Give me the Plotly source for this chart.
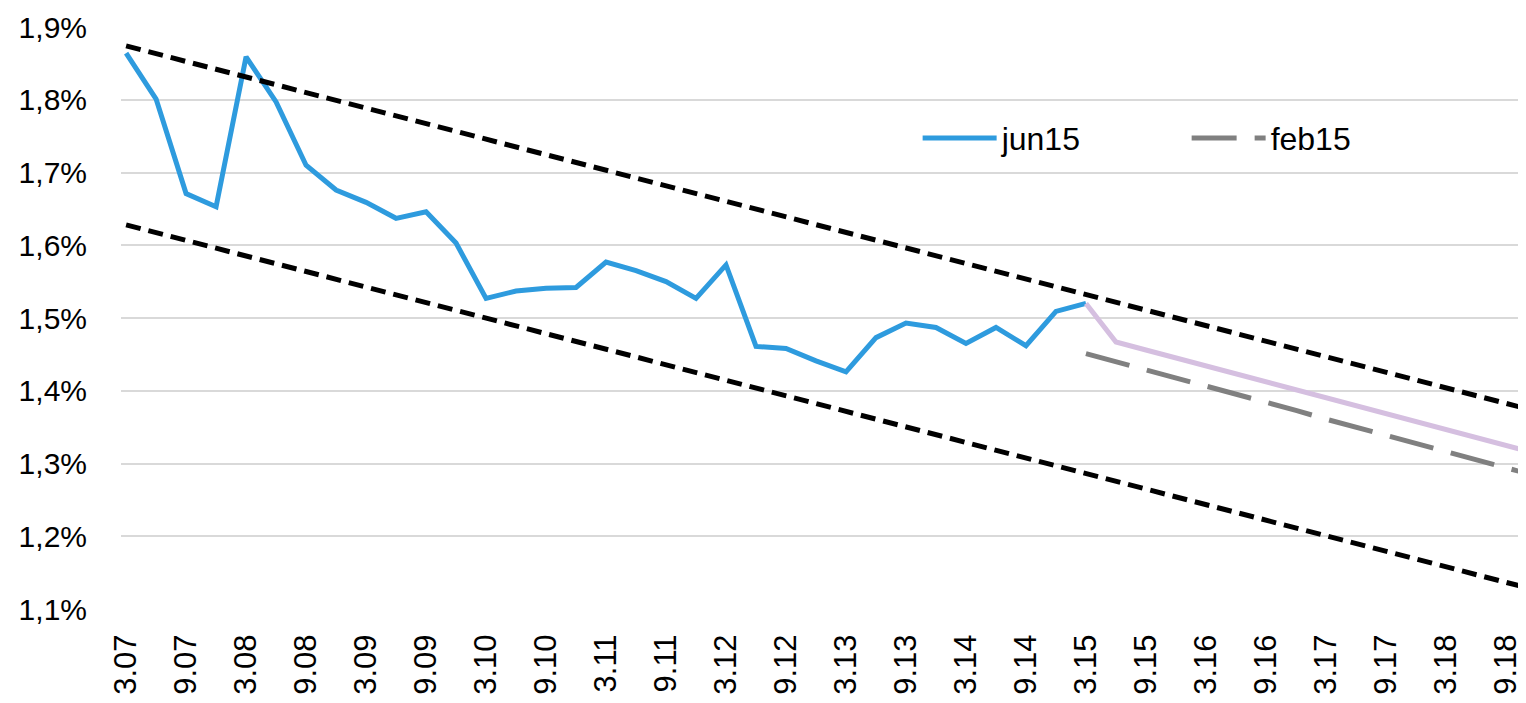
import plotly.graph_objects as go

# quarterly categories 3.07 ... 12.18
years = ["07", "08", "09", "10", "11", "12", "13", "14", "15", "16", "17", "18"]
quarters = [m + "." + y for y in years for m in ["3", "6", "9", "12"]]

# jun15 - history up to 3.15
jun15_hist = [1.864, 1.801, 1.671, 1.653, 1.859, 1.797, 1.710, 1.676, 1.659, 1.637,
              1.646, 1.603, 1.527, 1.537, 1.541, 1.542, 1.577, 1.565, 1.550, 1.527,
              1.573, 1.461, 1.458, 1.441, 1.426, 1.473, 1.493, 1.487, 1.465, 1.487,
              1.462, 1.509, 1.520]
# jun15 - projection from 3.15
jun15_proj = [1.520, 1.467, 1.456, 1.445, 1.434, 1.423, 1.412, 1.402, 1.391, 1.380,
              1.369, 1.358, 1.347, 1.336, 1.325, 1.314]
# feb15 - projection from 3.15
feb15_proj = [1.451, 1.440, 1.429, 1.417, 1.406, 1.395, 1.384, 1.373, 1.361, 1.350,
              1.339, 1.328, 1.317, 1.305, 1.294, 1.283]
# trend band (start 3.07, end 12.18)
trend_x = ["3.07", "12.18"]
upper_trend = [1.874, 1.372]
lower_trend = [1.628, 1.126]

hist_x = quarters[:len(jun15_hist)]
proj_x = quarters[len(jun15_hist) - 1:]

fig = go.Figure()
fig.add_trace(go.Scatter(x=hist_x, y=jun15_hist, mode="lines", name="jun15",
                         line=dict(color="#2E9BDE", width=5)))
fig.add_trace(go.Scatter(x=proj_x, y=jun15_proj, mode="lines", showlegend=False,
                         line=dict(color="#D5BFE0", width=5)))
fig.add_trace(go.Scatter(x=proj_x, y=feb15_proj, mode="lines", name="feb15",
                         line=dict(color="#808080", width=5, dash="45px,18px")))
fig.add_trace(go.Scatter(x=trend_x, y=upper_trend, mode="lines", showlegend=False,
                         line=dict(color="black", width=5, dash="15px,8px")))
fig.add_trace(go.Scatter(x=trend_x, y=lower_trend, mode="lines", showlegend=False,
                         line=dict(color="black", width=5, dash="15px,8px")))

# page body adds 8px, so the figure is 8px smaller than the window
fig.update_layout(
    width=1518, height=695,
    margin=dict(l=113, r=0, t=19, b=94, autoexpand=False),
    plot_bgcolor="white", paper_bgcolor="white",
    separators=",.",
    font=dict(family="Liberation Sans, Arial, sans-serif", size=30, color="black"),
    legend=dict(orientation="h", x=0.567, y=0.809, xanchor="left", yanchor="middle",
                itemwidth=74, entrywidth=180, font=dict(size=32),
                bgcolor="rgba(0,0,0,0)"),
)
fig.update_xaxes(type="category", categoryorder="array", categoryarray=quarters,
                 range=[-0.17, 46.67], tickmode="array", tickvals=quarters[::2],
                 tickangle=-90, tickfont=dict(size=31), showgrid=False,
                 ticks="outside", ticklen=12, tickcolor="rgba(0,0,0,0)",
                 showline=False, zeroline=False, automargin=False)
fig.update_yaxes(range=[1.1, 1.9], dtick=0.1, tickformat=".1f", ticksuffix="%",
                 gridcolor="#D9D9D9", gridwidth=2, zeroline=False, showline=False,
                 ticks="outside", ticklen=27, tickcolor="rgba(0,0,0,0)",
                 automargin=False)

fig.write_html("out.html")
